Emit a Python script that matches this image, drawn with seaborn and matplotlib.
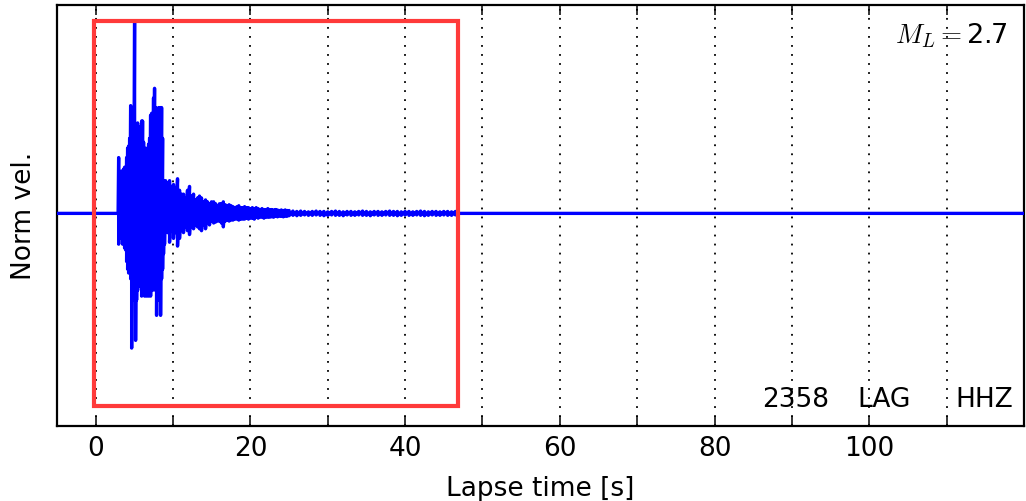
import numpy as np
import pandas as pd
import matplotlib
matplotlib.use("Agg")
import matplotlib.pyplot as plt
import seaborn as sns
from matplotlib.patches import Rectangle

# ---- data ----
# flat (zero) trace before and after the event record
pre_t = [-5.0, 2.9]
post_t = [46.8, 120.0]

# dense part: sample times [s], positive and negative peaks (normalised velocity)
dense_t = [2.97, 3.10, 3.23, 3.35, 3.48, 3.61, 3.74, 3.87, 4.00, 4.13,
           4.26, 4.39, 4.52, 4.65, 4.77, 4.90, 5.03, 5.16, 5.29, 5.42,
           5.55, 5.68, 5.81, 5.94, 6.06, 6.19, 6.32, 6.45, 6.58, 6.71,
           6.84, 6.97, 7.10, 7.23, 7.35, 7.48, 7.61, 7.74, 7.87, 8.00,
           8.13, 8.26, 8.39, 8.52, 8.65, 8.77, 8.90]
dense_up = [0.29, 0.21, 0.15, 0.22, 0.21, 0.23, 0.24, 0.21, 0.29, 0.34,
            0.35, 0.39, 0.56, 0.44, 0.39, 0.55, 1.00, 0.39, 0.44, 0.47,
            0.41, 0.45, 0.42, 0.48, 0.48, 0.37, 0.34, 0.26, 0.31, 0.34,
            0.36, 0.39, 0.51, 0.52, 0.44, 0.60, 0.65, 0.55, 0.49, 0.53,
            0.55, 0.47, 0.55, 0.55, 0.39, 0.17, 0.15]
dense_lo = [-0.16, -0.13, -0.08, -0.11, -0.16, -0.13, -0.18, -0.19, -0.25, -0.29,
            -0.31, -0.26, -0.34, -0.70, -0.45, -0.40, -0.34, -0.66, -0.45, -0.40,
            -0.33, -0.37, -0.38, -0.43, -0.40, -0.34, -0.43, -0.32, -0.43, -0.37,
            -0.43, -0.34, -0.43, -0.37, -0.40, -0.34, -0.29, -0.40, -0.53, -0.45,
            -0.34, -0.45, -0.53, -0.34, -0.29, -0.21, -0.16]

# early coda: sample times [s], positive and negative peaks
coda_t = [9.03, 9.29, 9.55, 9.81, 10.06, 10.32, 10.58, 10.84, 11.10, 11.35,
          11.61, 11.87, 12.13, 12.39, 12.65, 12.90, 13.16, 13.42, 13.68, 13.94,
          14.20, 14.45, 14.71, 14.97]
coda_up = [0.17, 0.16, 0.17, 0.14, 0.15, 0.13, 0.18, 0.12, 0.10, 0.10,
           0.08, 0.12, 0.14, 0.09, 0.10, 0.07, 0.08, 0.09, 0.08, 0.06,
           0.07, 0.06, 0.05, 0.06]
coda_lo = [-0.08, -0.10, -0.15, -0.09, -0.13, -0.10, -0.17, -0.13, -0.08, -0.10,
           -0.07, -0.09, -0.11, -0.07, -0.08, -0.06, -0.07, -0.08, -0.09, -0.06,
           -0.08, -0.05, -0.06, -0.04]

# late coda, 15-25 s
late_t = [15.25, 15.5, 15.75, 16.0, 16.25, 16.5, 16.75, 17.0, 17.25, 17.5,
          17.75, 18.0, 18.25, 18.5, 18.75, 19.0, 19.25, 19.5, 19.75, 20.0,
          20.25, 20.5, 20.75, 21.0, 21.25, 21.5, 21.75, 22.0, 22.25, 22.5,
          22.75, 23.0, 23.25, 23.5, 23.75, 24.0, 24.25, 24.5, 24.75, 25.0]
late_up = [0.06, 0.05, 0.04, 0.05, 0.05, 0.06, 0.045, 0.04, 0.045, 0.04,
           0.035, 0.03, 0.035, 0.04, 0.03, 0.03, 0.035, 0.03, 0.03, 0.025,
           0.03, 0.025, 0.03, 0.025, 0.02, 0.025, 0.02, 0.02, 0.025, 0.02,
           0.02, 0.018, 0.02, 0.018, 0.015, 0.018, 0.015, 0.018, 0.015, 0.015]
late_lo = [-0.05, -0.045, -0.04, -0.04, -0.05, -0.07, -0.04, -0.035, -0.04, -0.035,
           -0.035, -0.03, -0.03, -0.035, -0.03, -0.03, -0.03, -0.025, -0.03, -0.025,
           -0.025, -0.03, -0.02, -0.025, -0.02, -0.02, -0.025, -0.02, -0.02, -0.02,
           -0.018, -0.02, -0.015, -0.018, -0.015, -0.015, -0.018, -0.015, -0.015, -0.012]

# tail, 25.5-46.5 s
tail_t = [25.5, 26.0, 26.5, 27.0, 27.5, 28.0, 28.5, 29.0, 29.5, 30.0,
          30.5, 31.0, 31.5, 32.0, 32.5, 33.0, 33.5, 34.0, 34.5, 35.0,
          35.5, 36.0, 36.5, 37.0, 37.5, 38.0, 38.5, 39.0, 39.5, 40.0,
          40.5, 41.0, 41.5, 42.0, 42.5, 43.0, 43.5, 44.0, 44.5, 45.0,
          45.5, 46.0, 46.5]
tail_up = [0.012, 0.01, 0.012, 0.01, 0.008, 0.01, 0.012, 0.01, 0.01, 0.008,
           0.01, 0.012, 0.01, 0.008, 0.01, 0.01, 0.008, 0.01, 0.012, 0.01,
           0.008, 0.01, 0.01, 0.008, 0.01, 0.012, 0.01, 0.01, 0.008, 0.01,
           0.01, 0.008, 0.01, 0.012, 0.01, 0.008, 0.01, 0.01, 0.008, 0.01,
           0.01, 0.008, 0.01]
tail_lo = [-0.01, -0.012, -0.01, -0.008, -0.01, -0.01, -0.008, -0.01, -0.012, -0.01,
           -0.008, -0.01, -0.01, -0.012, -0.008, -0.01, -0.01, -0.008, -0.01, -0.01,
           -0.012, -0.008, -0.01, -0.01, -0.008, -0.01, -0.01, -0.012, -0.01, -0.008,
           -0.01, -0.01, -0.008, -0.01, -0.012, -0.01, -0.008, -0.01, -0.01, -0.008,
           -0.01, -0.01, -0.008]

# analysis window (red box), time range and amplitude range
win_t = [-0.25, 46.8]
win_amp = [-1.0, 1.0]

magnitude = "2.7"
event_id, station, channel = "2358", "LAG", "HHZ"
xtick_vals = [0, 10, 20, 30, 40, 50, 60, 70, 80, 90, 100, 110]

# ---- build the trace ----
sig_t = np.array(dense_t + coda_t + late_t + tail_t)
sig_up = np.array(dense_up + coda_up + late_up + tail_up)
sig_lo = np.array(dense_lo + coda_lo + late_lo + tail_lo)
t = np.concatenate([pre_t, np.repeat(sig_t, 2), post_t])
v = np.concatenate([[0.0, 0.0], np.column_stack([sig_up, sig_lo]).ravel(), [0.0, 0.0]])
df = pd.DataFrame({"t": t, "v": v})

sns.set_style("white")
plt.rcParams["font.family"] = ["DejaVu Sans"]
plt.rcParams["mathtext.fontset"] = "cm"
plt.rcParams["text.color"] = "black"
plt.rcParams["axes.labelcolor"] = "black"

fig = plt.figure(figsize=(10.26, 5.01), dpi=100)
ax = fig.add_axes([57 / 1026, 75 / 501, 967 / 1026, 421 / 501])

sns.lineplot(data=df, x="t", y="v", sort=False, estimator=None,
             color="#0000ff", lw=2.4, ax=ax, zorder=3)

ax.add_patch(Rectangle((win_t[0], win_amp[0]), win_t[1] - win_t[0],
                       win_amp[1] - win_amp[0], fill=False,
                       edgecolor="#ff3a3a", lw=3, zorder=4))

ax.set_xlim(-5, 120)
ax.set_ylim(-1.105, 1.083)
ax.set_xticks(xtick_vals)
ax.set_xticklabels([str(x) if x % 20 == 0 else "" for x in xtick_vals])
ax.set_yticks([0])
ax.set_yticklabels([""])
ax.tick_params(axis="x", direction="in", length=7.5, width=1.1, top=True,
               bottom=True, labelsize=19, pad=7, colors="black",
               labelcolor="black")
ax.tick_params(axis="y", length=0)
ax.grid(True, color="black", linestyle=(0, (1, 4)), lw=1.3, zorder=1)
for s in ax.spines.values():
    s.set_visible(True)
    s.set_color("black")
    s.set_linewidth(1.6)

ax.set_xlabel("Lapse time [s]", fontsize=19, labelpad=10, color="black")
ax.set_ylabel("Norm vel.", fontsize=19, color="black")
ax.yaxis.set_label_coords(-0.021, 0.5)

ax.text(0.983, 0.962, r"$M_L=$" + magnitude, transform=ax.transAxes,
        ha="right", va="top", fontsize=19.5, color="black")
ax.text(0.729, 0.045, event_id, transform=ax.transAxes, ha="left",
        va="baseline", fontsize=19, color="black")
ax.text(0.828, 0.045, station, transform=ax.transAxes, ha="left",
        va="baseline", fontsize=19, color="black")
ax.text(0.929, 0.045, channel, transform=ax.transAxes, ha="left",
        va="baseline", fontsize=19, color="black")

fig.savefig("out.png", dpi=100)
